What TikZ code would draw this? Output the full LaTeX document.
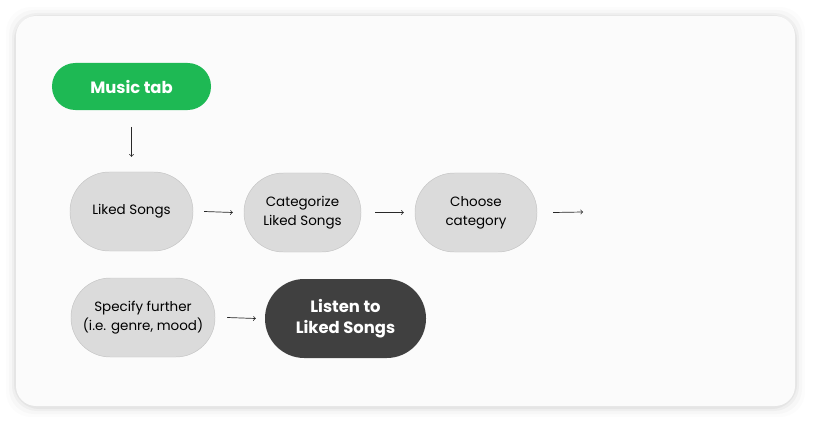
\documentclass[tikz,border=0pt]{standalone}
\usepackage{fontspec}
\setmainfont{Poppins}
\usepackage{tikz}
\usetikzlibrary{arrows,shapes,positioning}
\usepackage{xcolor}
\definecolor{spgreen}{RGB}{30,185,84}
\definecolor{spdark}{RGB}{64,64,64}
\definecolor{stepfill}{RGB}{219,219,219}
\definecolor{stepline}{RGB}{196,196,196}
\definecolor{cardfill}{RGB}{251,251,251}
\definecolor{arrowgray}{RGB}{40,40,40}
\tikzstyle{stepbox} = [rectangle, rounded corners=1.18cm, minimum height=2.37cm, inner sep=0pt, align=center, draw=stepline, fill=stepfill, font=\fontsize{11.5}{16}\selectfont]
\tikzstyle{keybox} = [rectangle, rounded corners=0.7cm, minimum height=1.41cm, inner sep=0pt, align=center, text=white, fill=spgreen, font=\fontsize{14}{17.5}\selectfont\bfseries]
\tikzstyle{arrow} = [semithick,->,>=to,color=arrowgray]

\begin{document}
\begin{tikzpicture}[x=0.03cm,y=-0.03cm]
\useasboundingbox (0,0) rectangle (815,426);
\fill[white] (0,0) rectangle (815,426);

% Card with soft shadow
\foreach \s/\o in {10/0.012,7/0.02,4/0.03,2/0.04}
  \fill[black, opacity=\o, rounded corners=0.75cm] (16-\s,17-\s) rectangle (795+\s,407+\s);
\fill[cardfill, rounded corners=0.6cm] (16,16) rectangle (795,406);

% Start
\node[keybox, minimum width=4.77cm] (music) at (131.5,86.5) {Music tab};

% First row
\node[stepbox, minimum width=3.69cm] (liked) at (131.5,211.5) {Liked Songs};
\node[stepbox, minimum width=3.51cm] (categ) at (302.5,212.5) {Categorize\\Liked Songs};
\node[stepbox, minimum width=3.66cm] (choose) at (476,212.5) {Choose\\category};
\coordinate (next) at (583,212);

% Second row
\node[stepbox, minimum width=4.32cm] (specify) at (143,317.5) {Specify further\\(i.e. genre, mood)};
\node[stepbox, draw=none, fill=spdark, text=white, minimum width=4.83cm, font=\fontsize{14}{17.5}\selectfont\bfseries] (listen) at (345.5,318.5) {Listen to\\Liked Songs};

% Arrows
\draw[arrow] ([yshift=-0.5cm]music.south) -- ([yshift=0.45cm]liked.north);
\draw[arrow] ([xshift=0.33cm]liked.east) -- ([xshift=-0.33cm]categ.west);
\draw[arrow] ([xshift=0.42cm]categ.east) -- ([xshift=-0.33cm]choose.west);
\draw[arrow] ([xshift=0.48cm]choose.east) -- (next);
\draw[arrow] ([xshift=0.36cm]specify.east) -- ([xshift=-0.27cm]listen.west);
\end{tikzpicture}
\end{document}
